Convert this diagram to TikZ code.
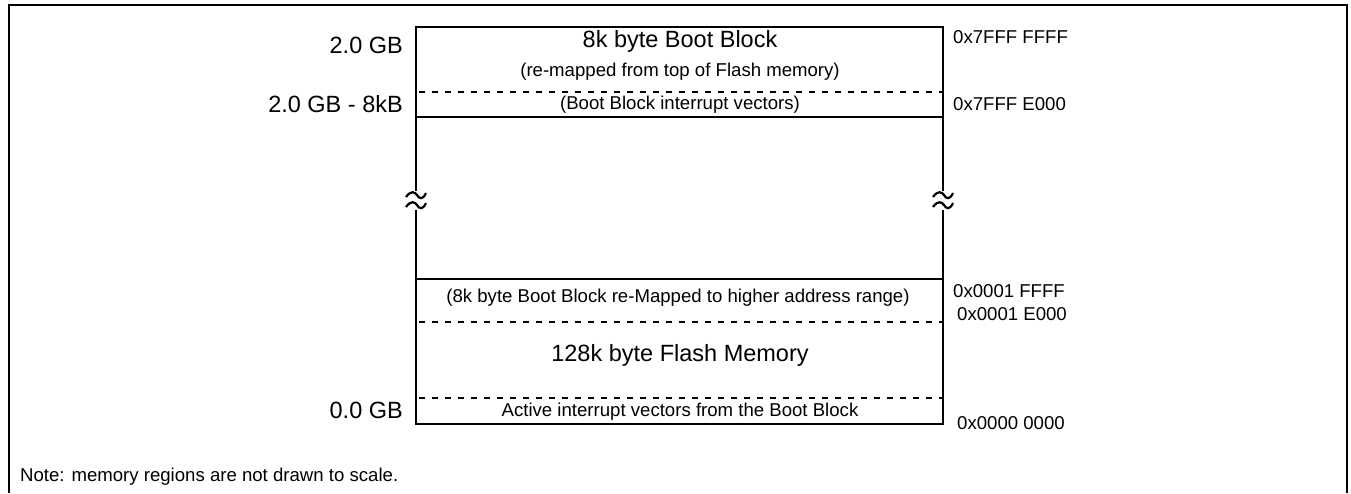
\documentclass[tikz,border=0pt]{standalone}
\usepackage{fontspec}
\setmainfont{Liberation Sans}
\begin{document}
\begin{tikzpicture}[x=1pt,y=-1pt,
  frame/.style={line width=2.4pt},
  boxline/.style={line width=2.4pt},
  dashline/.style={line width=2.4pt, dash pattern=on 6pt off 7pt},
  big/.style={font=\fontsize{23.5}{25}\selectfont, inner sep=0pt},
  small/.style={font=\fontsize{18.6}{20}\selectfont, inner sep=0pt},
  brk/.style={line width=2.2pt}]
\useasboundingbox (0,0) rectangle (1351,493);
% outer frame (open at bottom)
\draw[frame] (9,493) -- (9,5) -- (1347,5) -- (1347,493);
% box coordinates
\coordinate (tl) at (416,27);
\coordinate (tr) at (943,27);
\coordinate (bl) at (416,424);
\coordinate (br) at (943,424);
\draw[boxline] (tl) -- (tr);
\draw[boxline] (416,117) -- (943,117);
\draw[boxline] (416,279) -- (943,279);
\draw[boxline] (bl) -- (br);
\draw[dashline] (419,92) -- (943,92);
\draw[dashline] (419,322) -- (943,322);
\draw[dashline] (419,398) -- (943,398);
% vertical sides with breaks
\draw[boxline] (416,25.8) -- (416,191);
\draw[boxline] (416,210) -- (416,425.2);
\draw[boxline] (943,25.8) -- (943,191);
\draw[boxline] (943,210) -- (943,425.2);
\foreach \xx in {416,943}{
  \draw[brk] (\xx-10,197) .. controls (\xx-5,190) and (\xx-1,192) .. (\xx+1,195)
                   .. controls (\xx+3,199) and (\xx+7,200) .. (\xx+10,193);
  \draw[brk] (\xx-10,207) .. controls (\xx-5,200) and (\xx-1,202) .. (\xx+1,205)
                   .. controls (\xx+3,209) and (\xx+7,210) .. (\xx+10,203);
}
% left labels
\node[big, anchor=east] (l1) at (403,45) {2.0 GB};
\node[big, anchor=east] (l2) at (403,104) {2.0 GB - 8kB};
\node[big, anchor=east] (l3) at (403,410) {0.0 GB};
% right labels
\node[small, anchor=west] (r1) at (953,37) {0x7FFF FFFF};
\node[small, anchor=west] (r2) at (953,104) {0x7FFF E000};
\node[small, anchor=west] (r3) at (953,291) {0x0001 FFFF};
\node[small, anchor=west] (r4) at (957,314) {0x0001 E000};
\node[small, anchor=west] (r5) at (957,423) {0x0000 0000};
% inside labels
\node[big] (t1) at (680,41) {8k byte Boot Block};
\node[small] (t2) at (680,72) {(re-mapped from top of Flash memory)};
\node[small] (t3) at (680,105) {(Boot Block interrupt vectors)};
\node[small] (t4) at (678,298) {(8k byte Boot Block re-Mapped to higher address range)};
\node[big] (t5) at (680,355) {128k byte Flash Memory};
\node[small] (t6) at (680,412) {Active interrupt vectors from the Boot Block};
% note
\node[small, anchor=west] (note) at (20,477) {Note: memory regions are not drawn to scale.};
\end{tikzpicture}
\end{document}
